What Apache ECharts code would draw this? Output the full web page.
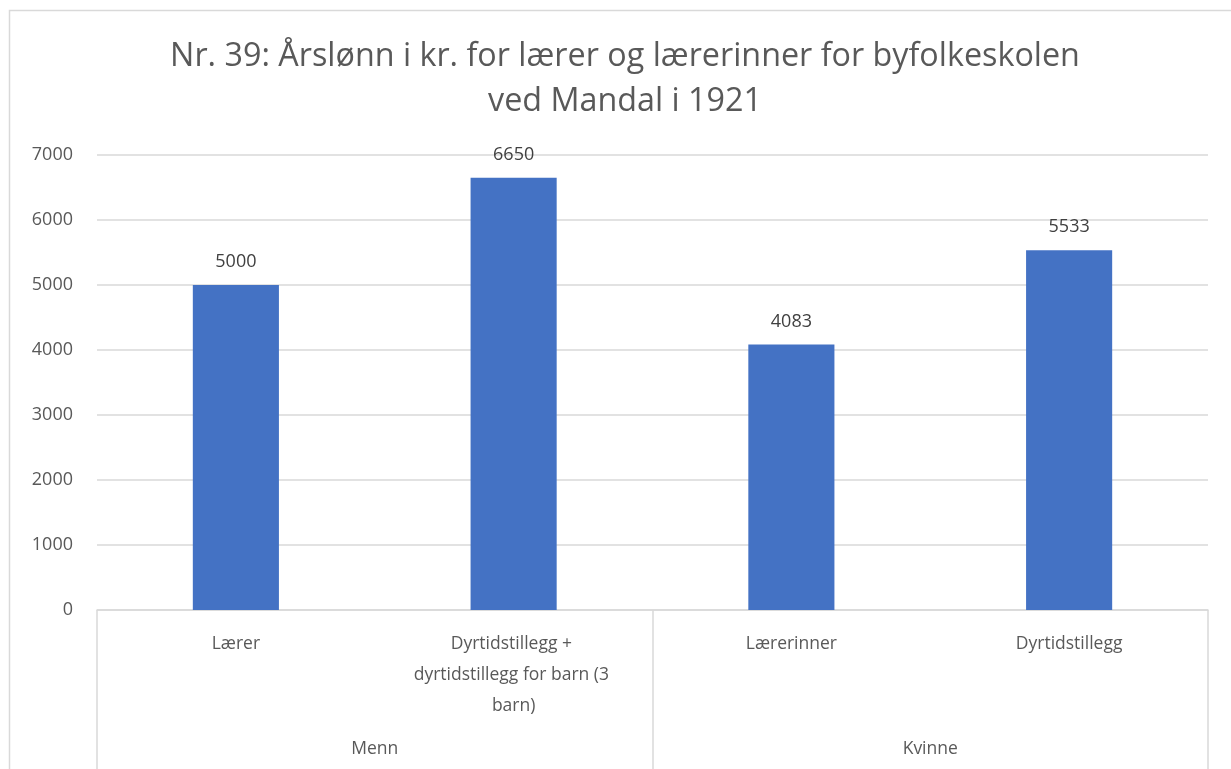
<!DOCTYPE html>
<html>
<head>
<meta charset="utf-8">
<script src="https://cdn.jsdelivr.net/npm/echarts@6/dist/echarts.min.js"></script>
<style>
  html, body { margin: 0; padding: 0; background: #fff; }
  #chart { width: 1231px; height: 769px; }
</style>
</head>
<body>
<div id="chart"></div>
<script>
// data
var categories = ['Lærer', 'Dyrtidstillegg + dyrtidstillegg for barn (3 barn)', 'Lærerinner', 'Dyrtidstillegg'];
var groups = ['Menn', 'Kvinne'];
var values = [5000, 6650, 4083, 5533];
var yTicks = [0, 1000, 2000, 3000, 4000, 5000, 6000, 7000];

var txt = '#595959';
var lineCol = '#d9d9d9';
var font = '"Open Sans", "Noto Sans", sans-serif';

var myChart = echarts.init(document.getElementById('chart'));

var option = {
    backgroundColor: '#fff',
    animation: false,
    title: {
        text: 'Nr. 39: Årslønn i kr. for lærer og lærerinner for byfolkeskolen\nved Mandal i 1921',
        left: 620,
        top: 29,
        textAlign: 'center',
        textStyle: {
            color: txt,
            fontFamily: font,
            fontWeight: 'normal',
            fontSize: 32.3,
            lineHeight: 45
        }
    },
    graphic: [{
        type: 'rect',
        shape: { x: 9.5, y: 10.5, width: 1240, height: 780 },
        style: { fill: 'none', stroke: lineCol, lineWidth: 1.5 },
        silent: true
    }],
    grid: {
        left: 97,
        right: 23,
        top: 155,
        bottom: 159
    },
    xAxis: [{
        type: 'category',
        data: categories,
        axisLine: { show: false },
        axisTick: { show: false },
        axisLabel: {
            color: txt,
            fontFamily: font,
            fontSize: 17.5,
            lineHeight: 31,
            margin: 19,
            interval: 0,
            width: 214,
            overflow: 'break'
        }
    }, {
        type: 'category',
        data: groups,
        position: 'bottom',
        axisLine: { show: true, lineStyle: { color: lineCol, width: 1.5 } },
        axisTick: { show: true, length: 170, lineStyle: { color: lineCol, width: 1.5 } },
        axisLabel: {
            color: txt,
            fontFamily: font,
            fontSize: 17.5,
            margin: 130
        }
    }],
    yAxis: {
        type: 'value',
        min: yTicks[0],
        max: yTicks[yTicks.length - 1],
        interval: 1000,
        axisLine: { show: false },
        axisTick: { show: false },
        axisLabel: {
            color: txt,
            fontFamily: font,
            fontSize: 18,
            margin: 24,
            formatter: function (v) { return String(v); }
        },
        splitLine: { lineStyle: { color: lineCol, width: 1.5 } }
    },
    series: [{
        type: 'bar',
        xAxisIndex: 0,
        data: values,
        barWidth: '31%',
        itemStyle: { color: '#4472c4' },
        label: {
            show: true,
            position: 'top',
            distance: 14,
            color: '#404040',
            fontFamily: font,
            fontSize: 18
        }
    }]
};

myChart.setOption(option);
</script>
</body>
</html>
